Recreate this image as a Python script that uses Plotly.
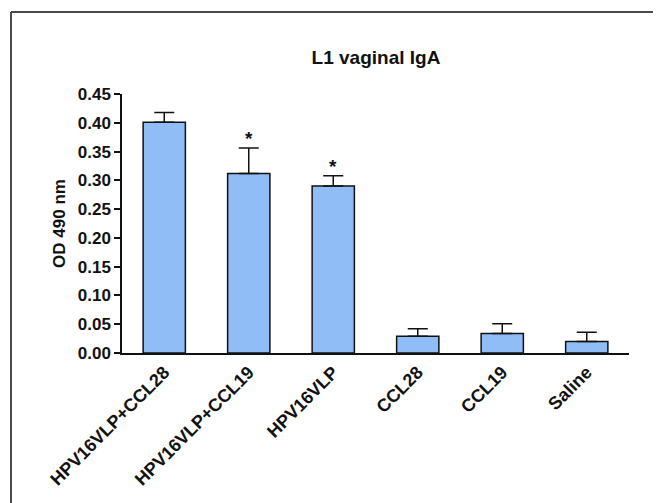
import plotly.graph_objects as go

categories = ["HPV16VLP+CCL28", "HPV16VLP+CCL19", "HPV16VLP", "CCL28", "CCL19", "Saline"]
od_values = [0.401, 0.312, 0.290, 0.029, 0.034, 0.020]
od_errors = [0.017, 0.044, 0.018, 0.013, 0.017, 0.016]
significant = [False, True, True, False, False, False]
y_ticks = [0.00, 0.05, 0.10, 0.15, 0.20, 0.25, 0.30, 0.35, 0.40, 0.45]

FONT = "Liberation Sans, Arial, Helvetica, sans-serif"
W, H = 661, 503
OFF = 8  # page body margin offset
ml, mr, mt, mb = 122 - OFF, 661 - (629 - OFF), 94 - OFF, 503 - (353 - OFF)

fig = go.Figure()
fig.add_trace(go.Bar(
    x=categories, y=od_values, width=0.5,
    marker=dict(color="#91BDF6", line=dict(color="#111111", width=1.5)),
    error_y=dict(type="data", array=od_errors, arrayminus=[0]*len(od_errors),
                 symmetric=False, color="#111111", thickness=1.5, width=10),
    showlegend=False,
))

for cat, v, e, s in zip(categories, od_values, od_errors, significant):
    if s:
        fig.add_annotation(x=cat, y=v + e, text="*", showarrow=False,
                           yanchor="bottom", yshift=-3,
                           font=dict(family=FONT, size=19, color="#111111", weight="bold"))

# outer frame: only left and top edges fall inside the picture
pw = W - ml - mr
ph = H - mt - mb
fx = (11 - OFF - ml) / pw
fy = (H - (12 - OFF) - mb) / ph
fx_end = (W - ml) / pw
fy_end = (-mb) / ph
frame = dict(color="#4a4a4a", width=2)
fig.add_shape(type="line", xref="paper", yref="paper", x0=fx, x1=fx, y0=fy_end, y1=fy, line=frame)
fig.add_shape(type="line", xref="paper", yref="paper", x0=fx, x1=fx_end, y0=fy, y1=fy, line=frame)

fig.update_layout(
    width=W, height=H,
    margin=dict(l=ml, r=mr, t=mt, b=mb),
    paper_bgcolor="white", plot_bgcolor="white",
    font=dict(family=FONT, color="#111111", size=17, weight="bold"),
    title=dict(text="L1 vaginal IgA", x=(376 - OFF) / W, xanchor="center",
               y=1 - (57 - OFF) / H, yanchor="middle",
               font=dict(family=FONT, size=19, color="#111111", weight="bold")),
    xaxis=dict(
        range=[-0.5, 5.5], showline=True, linecolor="#111111", linewidth=1.5,
        ticks="", tickangle=-45, showgrid=False, zeroline=False,
        tickfont=dict(family=FONT, size=18, color="#111111", weight="bold"),
    ),
    yaxis=dict(
        range=[0, 0.45], tickvals=y_ticks, ticktext=[f"{t:.2f}" for t in y_ticks],
        showline=True, linecolor="#111111", linewidth=1.5,
        ticks="outside", ticklen=6, tickwidth=1.5, tickcolor="#111111",
        showgrid=False, zeroline=False,
        tickfont=dict(family=FONT, size=17, color="#111111", weight="bold"),
        title=dict(text="OD 490 nm", standoff=8,
                   font=dict(family=FONT, size=17, color="#111111", weight="bold")),
    ),
)

fig.write_html("out.html")
